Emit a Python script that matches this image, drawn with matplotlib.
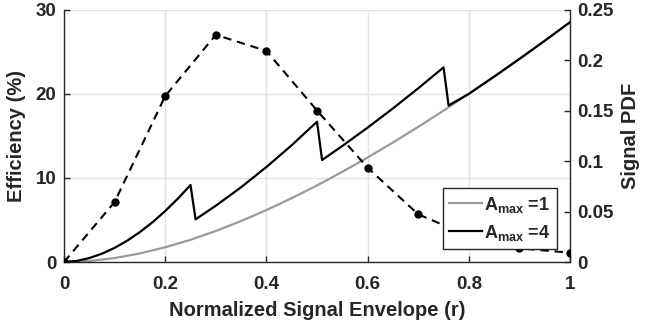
import matplotlib
matplotlib.use("Agg")
import matplotlib.pyplot as plt
import numpy as np

plt.rcParams["font.family"] = ["Liberation Sans", "DejaVu Sans"]
plt.rcParams["font.weight"] = "bold"
plt.rcParams["mathtext.fontset"] = "custom"
plt.rcParams["mathtext.bf"] = "Liberation Sans:bold"
plt.rcParams["mathtext.rm"] = "Liberation Sans:bold"

TEXT = "#262626"

# Efficiency, single supply level (A_max = 1)
r_amax1 = [0.0, 0.05, 0.1, 0.15, 0.2, 0.25, 0.3, 0.35, 0.4, 0.45, 0.5,
           0.55, 0.6, 0.65, 0.7, 0.75, 0.8, 0.85, 0.9, 0.95, 1.0]
eff_amax1 = [0.0, 0.12, 0.47, 1.02, 1.75, 2.64, 3.69, 4.87, 6.17, 7.59, 9.10,
             10.72, 12.42, 14.20, 16.06, 17.99, 19.98, 22.03, 24.13, 26.29, 28.5]

# Efficiency, four supply levels (A_max = 4)
r_amax4 = [0.0, 0.025, 0.05, 0.075, 0.1, 0.125, 0.15, 0.175, 0.2, 0.225, 0.25,
           0.26, 0.3, 0.35, 0.4, 0.45, 0.5,
           0.51, 0.55, 0.6, 0.65, 0.7, 0.75,
           0.76, 0.8, 0.85, 0.9, 0.95, 1.0]
eff_amax4 = [0.0, 0.13, 0.47, 0.99, 1.68, 2.54, 3.56, 4.73, 6.06, 7.53, 9.15,
             5.07, 6.69, 8.89, 11.29, 13.88, 16.67,
             12.12, 13.79, 15.97, 18.25, 20.64, 23.13,
             18.6, 19.98, 22.03, 24.13, 26.29, 28.5]

# Signal envelope PDF
r_pdf = [0.0, 0.1, 0.2, 0.3, 0.4, 0.5, 0.6, 0.7, 0.8, 0.9, 1.0]
pdf = [0.0, 0.0594, 0.1644, 0.225, 0.209, 0.150, 0.0934, 0.0472, 0.026, 0.0136, 0.0092]

fig = plt.figure(figsize=(6.46, 3.29), dpi=100)
ax = fig.add_axes([0.0991, 0.2036, 0.7833, 0.7674])
ax2 = ax.twinx()

l1, = ax.plot(r_amax1, eff_amax1, color="#9a9a9a", lw=1.6, zorder=2)
l4, = ax.plot(r_amax4, eff_amax4, color="black", lw=1.6, zorder=3)
ax2.plot(r_pdf, pdf, color="black", lw=1.5, linestyle=(0, (4, 2.8)),
         marker="o", markersize=5, zorder=3)

ax.set_xlim(0, 1)
ax.set_ylim(0, 30)
ax2.set_ylim(0, 0.25)
ax.set_xticks(np.arange(0, 1.01, 0.2))
ax.set_xticklabels(["0", "0.2", "0.4", "0.6", "0.8", "1"])
ax.set_yticks([0, 10, 20, 30])
ax2.set_yticks([0, 0.05, 0.1, 0.15, 0.2, 0.25])
ax2.set_yticklabels(["0", "0.05", "0.1", "0.15", "0.2", "0.25"])

ax.grid(True, color="#e3e3e3", lw=1.0)
ax.set_axisbelow(True)

for a in (ax, ax2):
    a.spines["top"].set_visible(False)
    for s in a.spines.values():
        s.set_color(TEXT)
        s.set_linewidth(1.0)
    a.tick_params(direction="in", length=4, width=1.0, colors=TEXT,
                  labelsize=13.5, labelcolor=TEXT, pad=5.5)
ax.tick_params(axis="x", pad=10)
ax2.spines["left"].set_visible(False)
ax2.spines["bottom"].set_visible(False)
ax.spines["right"].set_visible(False)

ax.set_xlabel("Normalized Signal Envelope (r)", fontsize=14.5, fontweight="bold",
              color=TEXT, labelpad=6)
ax.set_ylabel("Efficiency (%)", fontsize=14.5, fontweight="bold", color=TEXT, labelpad=7)
ax2.set_ylabel("Signal PDF", fontsize=14.5, fontweight="bold", color=TEXT, labelpad=5)

leg = ax2.legend([l1, l4], [r"$\mathbf{A_{max}}$ =1", r"$\mathbf{A_{max}}$ =4"],
                 loc="lower right", bbox_to_anchor=(0.974, 0.0515),
                 fontsize=13, frameon=True, fancybox=False, framealpha=1,
                 edgecolor=TEXT, handlelength=1.8, handletextpad=0.15,
                 borderpad=0.35, labelspacing=0.45, borderaxespad=0)
leg.get_frame().set_linewidth(1.0)
for t in leg.get_texts():
    t.set_color(TEXT)

fig.savefig("out.png", dpi=100, facecolor="white")
